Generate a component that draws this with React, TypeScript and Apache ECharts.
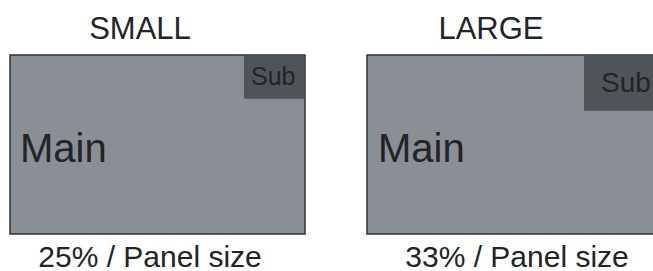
import React, { useEffect, useRef } from "react";
import * as echarts from "echarts";

const titles = ["SMALL", "LARGE"];
const captions = ["25% / Panel size", "33% / Panel size"];
const mainLabels = ["Main", "Main"];
const subLabels = ["Sub", "Sub"];

const FONT = "'Liberation Sans', Arial, Helvetica, sans-serif";
const TEXT = "#222426";
const PANEL = "#8a8f95";
const SUB = "#4f5457";
const BORDER = "#303234";

export default function App() {
  const ref = useRef<HTMLDivElement>(null);
  useEffect(() => {
    if (!ref.current) return;
    const chart = echarts.init(ref.current, null, { renderer: "svg" });
    const panels = [
      { x: 10, w: 295, subX: 244, subH: 43, subFont: 25, subTx: 251, subTy: 76, mainX: 20, titleX: 140, capX: 150 },
      { x: 367, w: 300, subX: 584, subH: 55, subFont: 28, subTx: 601, subTy: 82, mainX: 378, titleX: 491, capX: 517 },
    ];
    const top = 55, bottom = 234;
    const elements: any[] = [];
    panels.forEach((p, i) => {
      elements.push({
        type: "rect",
        shape: { x: p.x, y: top, width: p.w, height: bottom - top },
        style: { fill: PANEL, stroke: BORDER, lineWidth: 1.5 },
      });
      elements.push({
        type: "rect",
        shape: { x: p.subX, y: top + 0.75, width: p.x + p.w - p.subX - 0.75, height: p.subH },
        style: { fill: SUB },
      });
      elements.push({
        type: "text",
        x: p.subTx, y: p.subTy,
        style: { text: subLabels[i], font: `${p.subFont}px ${FONT}`, fill: TEXT, textAlign: "left", textVerticalAlign: "middle" },
      });
      elements.push({
        type: "text",
        x: p.mainX, y: 148,
        style: { text: mainLabels[i], font: `40px ${FONT}`, fill: TEXT, textAlign: "left", textVerticalAlign: "middle" },
      });
      elements.push({
        type: "text",
        x: p.titleX, y: 28.5,
        style: { text: titles[i], font: `31px ${FONT}`, fill: TEXT, textAlign: "center", textVerticalAlign: "middle" },
      });
      elements.push({
        type: "text",
        x: p.capX, y: 256,
        style: { text: captions[i], font: `30px ${FONT}`, lineHeight: 28, fill: TEXT, textAlign: "center", textVerticalAlign: "middle" },
      });
    });
    chart.setOption({
      animation: false,
      backgroundColor: "#ffffff",
      graphic: { elements },
    });
    return () => chart.dispose();
  }, []);
  return <div ref={ref} style={{ width: 653, height: 271, position: "fixed", left: 0, top: 0 }} />;
}
